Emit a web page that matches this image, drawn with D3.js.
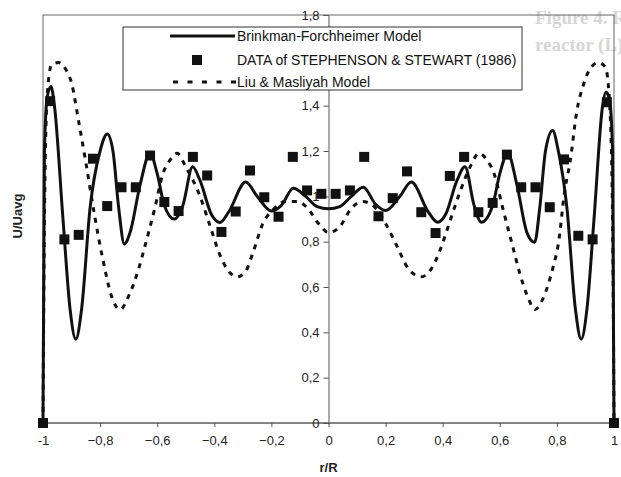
<!DOCTYPE html>
<html>
<head>
<meta charset="utf-8">
<script src="https://cdn.jsdelivr.net/npm/d3@7"></script>
<style>
  body { margin: 0; background: #fff; }
  svg { display: block; }
  text { font-family: "Liberation Sans", Arial, sans-serif; }
</style>
</head>
<body>
<svg id="chart" width="621" height="477"></svg>
<script>
// measured points (Stephenson & Stewart 1986)
const dataX = [-1, -0.975, -0.925, -0.875, -0.825, -0.775, -0.725, -0.675, -0.625, -0.575, -0.525,
  -0.475, -0.425, -0.375, -0.325, -0.275, -0.225, -0.175, -0.125, -0.075, -0.025,
  0.025, 0.075, 0.125, 0.175, 0.225, 0.275, 0.325, 0.375, 0.425, 0.475,
  0.525, 0.575, 0.625, 0.675, 0.725, 0.775, 0.825, 0.875, 0.925, 0.975, 1];
const dataY = [0, 1.42, 0.81, 0.83, 1.166, 0.957, 1.04, 1.04, 1.18, 0.975, 0.935,
  1.174, 1.092, 0.843, 0.933, 1.114, 0.996, 0.91, 1.174, 1.026, 1.011,
  1.011, 1.026, 1.174, 0.912, 0.992, 1.11, 0.93, 0.838, 1.09, 1.174,
  0.93, 0.971, 1.184, 1.04, 1.04, 0.952, 1.163, 0.826, 0.81, 1.415, 0];

// Brinkman-Forchheimer model
const bfX = [-1, -0.995, -0.985, -0.972, -0.96, -0.93, -0.905, -0.885, -0.865, -0.835, -0.8, -0.775,
  -0.755, -0.735, -0.715, -0.695, -0.66, -0.625, -0.6, -0.575, -0.54, -0.51, -0.476, -0.45,
  -0.41, -0.38, -0.35, -0.29, -0.25, -0.2, -0.165, -0.123, -0.08, -0.04, 0,
  0.04, 0.08, 0.122, 0.165, 0.2, 0.25, 0.29, 0.35, 0.382, 0.41, 0.45, 0.478, 0.51, 0.535,
  0.575, 0.6, 0.628, 0.66, 0.695, 0.722, 0.74, 0.76, 0.785, 0.805, 0.835, 0.865, 0.885,
  0.905, 0.93, 0.96, 0.972, 0.985, 0.995, 1];
const bfY = [0, 1.2, 1.44, 1.485, 1.4, 0.9, 0.5, 0.37, 0.5, 0.95, 1.2, 1.275,
  1.2, 0.95, 0.79, 0.84, 1.05, 1.19, 1.1, 0.96, 0.9, 0.96, 1.13, 1.07,
  0.92, 0.885, 0.93, 1.063, 1.0, 0.935, 0.96, 1.036, 1.0, 0.955, 0.945,
  0.955, 1.0, 1.04, 0.965, 0.937, 1.0, 1.063, 0.93, 0.886, 0.92, 1.07, 1.13, 0.96, 0.886,
  0.96, 1.1, 1.19, 1.05, 0.84, 0.797, 0.95, 1.2, 1.29, 1.2, 0.95, 0.5, 0.37,
  0.5, 0.9, 1.4, 1.46, 1.42, 1.2, 0];

// Liu & Masliyah model
const lmX = [-1, -0.995, -0.985, -0.97, -0.945, -0.92, -0.9, -0.875, -0.85, -0.82, -0.79, -0.76, -0.73,
  -0.7, -0.665, -0.643, -0.608, -0.58, -0.555, -0.53, -0.5, -0.45, -0.415, -0.38, -0.35, -0.32,
  -0.29, -0.265, -0.23, -0.195, -0.152, -0.11, -0.075, -0.035, 0,
  0.04, 0.08, 0.12, 0.16, 0.2, 0.24, 0.28, 0.325, 0.36, 0.39, 0.42, 0.455, 0.5, 0.527,
  0.555, 0.58, 0.61, 0.645, 0.67, 0.7, 0.722, 0.755, 0.785, 0.805, 0.828, 0.846, 0.869,
  0.895, 0.92, 0.945, 0.97, 0.985, 0.995, 1];
const lmY = [0, 0.9, 1.45, 1.58, 1.59, 1.56, 1.5, 1.33, 1.15, 0.92, 0.72, 0.56, 0.5,
  0.56, 0.68, 0.78, 0.95, 1.1, 1.16, 1.19, 1.13, 1.0, 0.87, 0.74, 0.67, 0.645,
  0.67, 0.75, 0.88, 0.94, 0.977, 0.977, 0.95, 0.88, 0.84,
  0.867, 0.947, 0.977, 0.955, 0.88, 0.78, 0.68, 0.645, 0.68, 0.76, 0.87, 1.0, 1.14, 1.19,
  1.16, 1.1, 0.95, 0.78, 0.66, 0.55, 0.5, 0.56, 0.68, 0.79, 1.03, 1.15, 1.37,
  1.5, 1.57, 1.59, 1.57, 1.4, 0.9, 0];

const xTicks = [-1, -0.8, -0.6, -0.4, -0.2, 0, 0.2, 0.4, 0.6, 0.8, 1];
// 1,6 sits under the legend box in the original, so it is left out
const yTicks = [0, 0.2, 0.4, 0.6, 0.8, 1, 1.2, 1.4, 1.8];
const legendNames = ["Brinkman-Forchheimer Model", "DATA of STEPHENSON & STEWART (1986)", "Liu & Masliyah Model"];

const svg = d3.select("#chart");
const x = d3.scaleLinear().domain([-1, 1]).range([43, 614]);
const y = d3.scaleLinear().domain([0, 1.8]).range([423, 15]);
const comma = d => d === 0 ? "0" : (Number.isInteger(d) ? String(d) : d3.format(".1f")(d).replace(".", ","));

// faint text bleeding through from the scanned page
svg.append("text").attr("x", 535).attr("y", 24).attr("fill", "#d6d6d6")
  .style("font-family", "'Liberation Serif', serif").style("font-weight", "bold").style("font-size", "19px")
  .text("Figure 4.  Radial velocity profile inside packed bed");
svg.append("text").attr("x", 535).attr("y", 51).attr("fill", "#d6d6d6")
  .style("font-family", "'Liberation Serif', serif").style("font-weight", "bold").style("font-size", "19px")
  .text("reactor (L)");

// plot area frame
svg.append("rect")
  .attr("x", x(-1)).attr("y", y(1.8))
  .attr("width", x(1) - x(-1)).attr("height", y(0) - y(1.8))
  .attr("fill", "none").attr("stroke", "#666").attr("stroke-width", 1);

// axes
const xAxis = svg.append("g").attr("transform", `translate(0,${y(0)})`)
  .call(d3.axisBottom(x).tickValues(xTicks).tickSize(4).tickPadding(9).tickFormat(comma));
const yAxis = svg.append("g").attr("transform", `translate(${x(0)},0)`)
  .call(d3.axisLeft(y).tickValues(yTicks).tickSize(5).tickPadding(4).tickFormat(comma));
[xAxis, yAxis].forEach(g => {
  g.select(".domain").attr("stroke", "#555");
  g.selectAll(".tick line").attr("stroke", "#555");
  g.selectAll(".tick text").attr("fill", "#222").style("font-size", "13px")
    .style("font-family", "'Liberation Sans', Arial, sans-serif");
});
xAxis.select(".domain").attr("d", `M${x(-1)},0H${x(1)}`);

svg.append("text").attr("x", x(0)).attr("y", 472).attr("text-anchor", "middle")
  .style("font-size", "13px").style("font-weight", "bold").attr("fill", "#222").text("r/R");
svg.append("text").attr("transform", "translate(22,216) rotate(-90)").attr("text-anchor", "middle")
  .style("font-size", "13px").style("font-weight", "bold").attr("fill", "#222").text("U/Uavg");

// curves
const line = d3.line().x(d => x(d[0])).y(d => y(d[1])).curve(d3.curveMonotoneX);
svg.append("path").datum(d3.zip(lmX, lmY)).attr("d", line)
  .attr("fill", "none").attr("stroke", "#111").attr("stroke-width", 3).attr("stroke-dasharray", "5,6");
svg.append("path").datum(d3.zip(bfX, bfY)).attr("d", line)
  .attr("fill", "none").attr("stroke", "#111").attr("stroke-width", 3);

// data squares
const sq = 10;
svg.append("g").selectAll("rect").data(d3.zip(dataX, dataY)).enter().append("rect")
  .attr("x", d => x(d[0]) - sq / 2).attr("y", d => y(d[1]) - sq / 2)
  .attr("width", sq).attr("height", sq).attr("fill", "#111");

// legend
const lg = svg.append("g");
lg.append("rect").attr("x", 123).attr("y", 27).attr("width", 399).attr("height", 63)
  .attr("fill", "#fff").attr("stroke", "#333").attr("stroke-width", 1);
const rows = [36, 60, 82];
lg.append("line").attr("x1", 170).attr("x2", 235).attr("y1", rows[0]).attr("y2", rows[0])
  .attr("stroke", "#111").attr("stroke-width", 3);
lg.append("rect").attr("x", 197 - sq / 2).attr("y", rows[1] - sq / 2).attr("width", sq).attr("height", sq).attr("fill", "#111");
lg.append("line").attr("x1", 173).attr("x2", 236).attr("y1", rows[2]).attr("y2", rows[2])
  .attr("stroke", "#111").attr("stroke-width", 3).attr("stroke-dasharray", "5,9.5");
lg.selectAll("text.lab").data(legendNames).enter().append("text")
  .attr("x", 237).attr("y", (d, i) => rows[i]).attr("dy", "0.35em")
  .style("font-size", "14px").attr("fill", "#111").text(d => d);
</script>
</body>
</html>
